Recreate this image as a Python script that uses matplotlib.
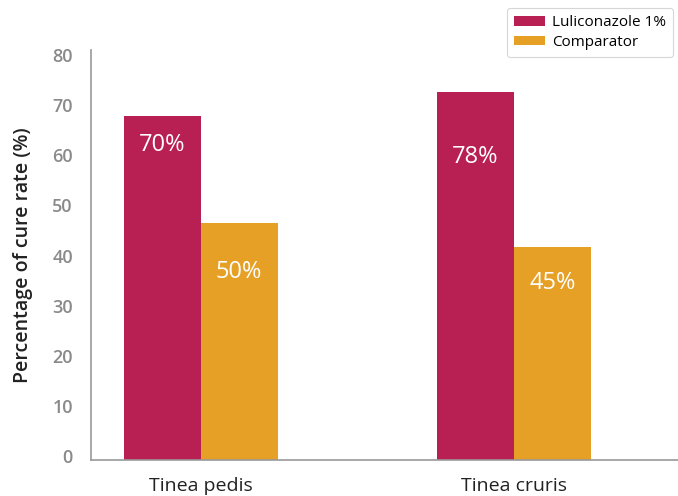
import numpy as np
import matplotlib.pyplot as plt
import matplotlib.transforms as mtransforms

# Données
categories = ["Tinea pedis", "Tinea cruris"]
luliconazole = [68.7, 73.5]
comparator = [47.3, 42.5]
luli_labels = ["70%", "78%"]
comp_labels = ["50%", "45%"]
luli_label_y = [62.9, 60.5]
comp_label_y = [37.5, 35.3]
yticks = [0, 10, 20, 30, 40, 50, 60, 70, 80]

plt.rcParams["font.family"] = ["Open Sans", "DejaVu Sans"]

fig = plt.figure(figsize=(6.78, 4.96), dpi=100)
ax = fig.add_axes([0.134, 0.0726, 0.866, 0.8266])

x = np.arange(len(categories))
w = 0.2457
ax.bar(x - w / 2, luliconazole, w, color="#B81F53", label="Luliconazole 1%")
ax.bar(x + w / 2, comparator, w, color="#E6A026", label="Comparator")

for i in range(len(categories)):
    ax.text(x[i] - w / 2, luli_label_y[i], luli_labels[i], color="white",
            fontsize=17, ha="center", va="center")
    ax.text(x[i] + w / 2, comp_label_y[i], comp_labels[i], color="white",
            fontsize=17, ha="center", va="center")

ax.set_xlim(-0.35, 1.523)
ax.set_ylim(0, 81.8)
ax.set_xticks(x)
ax.set_xticklabels(categories, fontsize=14, color="#222222")
ax.set_yticks(yticks)
ax.set_yticklabels([str(t) for t in yticks], fontsize=13, color="#8a8a8a",
                   fontweight="semibold")
ax.tick_params(axis="both", length=0)
ax.tick_params(axis="x", pad=12)
ax.tick_params(axis="y", pad=13)
# les étiquettes de l'axe y sont un peu plus haut que les graduations
shift = mtransforms.ScaledTranslation(0, 4 / 100, fig.dpi_scale_trans)
for lab in ax.get_yticklabels():
    lab.set_transform(lab.get_transform() + shift)

ax.set_ylabel("Percentage of cure rate (%)", fontsize=14, fontweight="semibold",
              color="#222222", labelpad=14)

for s in ["top", "right"]:
    ax.spines[s].set_visible(False)
for s in ["left", "bottom"]:
    ax.spines[s].set_color("#999999")
    ax.spines[s].set_linewidth(1.2)

leg = ax.legend(loc="upper right", bbox_to_anchor=(1.005, 1.12), fontsize=11,
                frameon=True, fancybox=True, handlelength=2.0, handleheight=0.6,
                borderpad=0.45, labelspacing=0.3, handletextpad=0.5)
leg.get_frame().set_edgecolor("#cccccc")
leg.get_frame().set_linewidth(0.8)

fig.savefig("out.png", dpi=100)
